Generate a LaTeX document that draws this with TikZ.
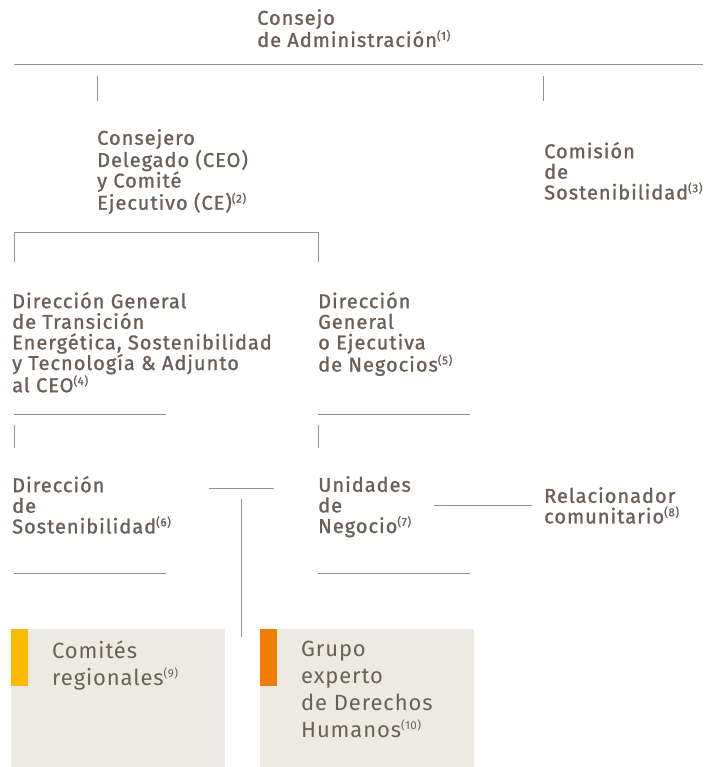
\documentclass[tikz,border=0pt]{standalone}
\usepackage{fontspec}
\setmainfont{Fira Sans}[LetterSpace=5,FakeBold=1.2]
\newfontfamily\boxfont{Fira Sans}[LetterSpace=4]
\definecolor{txt}{HTML}{6B5F58}
\definecolor{ln}{HTML}{9C918A}
\definecolor{boxbg}{HTML}{EDEAE4}
\definecolor{yelbar}{HTML}{FBB900}
\definecolor{orabar}{HTML}{EE7D00}
\newcommand{\fnote}[1]{\raisebox{0.36em}{\fontsize{11.5}{11.5}\selectfont(#1)}}
\tikzset{
  lbl/.style={anchor=north west, inner sep=0pt, align=left, text=txt,
    font=\fontsize{20}{20.6}\selectfont},
  boxlbl/.style={anchor=north west, inner sep=0pt, align=left, text=txt,
    font=\boxfont\fontsize{22}{26.8}\selectfont},
  rule/.style={draw=ln, line width=1pt},
}
\begin{document}
\begin{tikzpicture}[x=1pt,y=-1pt]
\useasboundingbox (0,0) rectangle (703,767);
% texts
\node[lbl] (cda) at (257,9) {Consejo\\de Administración\fnote{1}};
\node[lbl] (ceo) at (97,129) {Consejero\\Delegado (CEO)\\y Comité\\Ejecutivo (CE)\fnote{2}};
\node[lbl] (cs) at (544,142) {Comisión\\de\\Sostenibilidad\fnote{3}};
\node[lbl] (dgt) at (12,292) {Dirección General\\de Transición\\Energética, Sostenibilidad\\y Tecnología \& Adjunto\\al CEO\fnote{4}};
\node[lbl] (dgn) at (318,292) {Dirección\\General\\o Ejecutiva\\de Negocios\fnote{5}};
\node[lbl] (ds) at (12,476) {Dirección\\de\\Sostenibilidad\fnote{6}};
\node[lbl] (un) at (318,476) {Unidades\\de\\Negocio\fnote{7}};
\node[lbl] (rc) at (544,487) {Relacionador\\comunitario\fnote{8}};
% boxes
\fill[boxbg] (11,629) rectangle (225,767);
\fill[yelbar] (11,629) rectangle (28,686);
\fill[boxbg] (260,629) rectangle (474,767);
\fill[orabar] (260,629) rectangle (277,686);
\node[boxlbl] (cr) at (52,641) {Comités\\regionales\fnote{9}};
\node[boxlbl] (gdh) at (301,641) {Grupo\\experto\\de Derechos\\Humanos\fnote{10}};
% lines
\coordinate (t1) at (14,65); \coordinate (t2) at (703,65);
\draw[rule] (t1) -- (t2);
\draw[rule] (97,76) -- (97,101);
\draw[rule] (543,76) -- (543,101);
\draw[rule] (14,262) |- (318,232) -- (318,262);
\draw[rule] (14,414) -- (166,414);
\draw[rule] (318,414) -- (470,414);
\draw[rule] (14,425) -- (14,448);
\draw[rule] (318,425) -- (318,448);
\draw[rule] (209,488) -- (274,488);
\draw[rule] (241,499) -- (241,637);
\draw[rule] (434,505) -- (532,505);
\draw[rule] (14,573) -- (166,573);
\draw[rule] (318,573) -- (470,573);
\end{tikzpicture}
\end{document}
